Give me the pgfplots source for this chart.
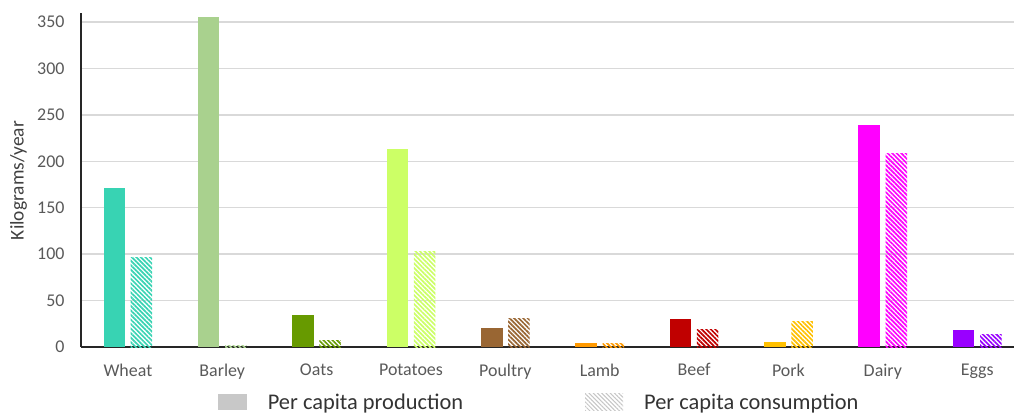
\documentclass[border=0pt]{standalone}
\usepackage{pgfplots}
\pgfplotsset{compat=1.18}
\usepackage{fontspec}
\setmainfont{Carlito}
\usetikzlibrary{patterns.meta}

\definecolor{cWheat}{HTML}{38D3B3}
\definecolor{cBarley}{HTML}{A9D18E}
\definecolor{cOats}{HTML}{679A00}
\definecolor{cPotatoes}{HTML}{CCFF66}
\definecolor{cPoultry}{HTML}{996633}
\definecolor{cLamb}{HTML}{FF9900}
\definecolor{cBeef}{HTML}{C00000}
\definecolor{cPork}{HTML}{FFC000}
\definecolor{cDairy}{HTML}{FF00FF}
\definecolor{cEggs}{HTML}{9900FF}
\definecolor{tickgray}{HTML}{595959}
\definecolor{labelgray}{HTML}{404040}
\definecolor{gridgray}{HTML}{D9D9D9}
\definecolor{legendgray}{HTML}{C8C8C8}

\pgfplotsset{
  prod/.style={ybar, bar width=21.5bp, bar shift=-13.6bp, draw=none, fill=#1, forget plot},
  cons/.style={ybar, bar width=21.5bp, bar shift=13.6bp, draw=none,
    pattern={Lines[angle=-45,distance=3.2bp,line width=1.7bp]}, pattern color=#1, forget plot},
}

\begin{document}
\begin{tikzpicture}
\path[use as bounding box] (-80.7bp,-68bp) rectangle (933.3bp,347bp);
\begin{axis}[
  at={(0bp,0bp)}, anchor=south west,
  scale only axis, width=933.3bp, height=334.3bp,
  xmin=-0.5, xmax=9.39, ymin=0, ymax=360,
  axis x line=bottom, axis y line=left,
  axis line style={-, line width=2bp, color=black!85},
  ytick={0,50,...,350},
  ymajorgrids, grid style={line width=1.5bp, color=gridgray},
  xtick={0,...,9},
  xticklabels={Wheat,Barley,Oats,Potatoes,Poultry,Lamb,Beef,Pork,Dairy,Eggs},
  major tick length=0pt,
  /pgf/number format/assume math mode=true,
  tick label style={font=\fontsize{18}{18}\selectfont, text=tickgray},
  yticklabel style={inner sep=0pt, xshift=-16bp},
  xticklabel style={inner sep=0pt, yshift=-16.5bp},
  ylabel={Kilograms/year},
  every axis y label/.style={at={(axis description cs:-0.0666,0.498)}, rotate=90, anchor=center,
    font=\fontsize{19.5}{19.5}\selectfont, text=labelgray},
  legend columns=2,
  legend style={at={(axis description cs:0.1467,-0.165)}, anchor=west, draw=none, fill=none,
    inner sep=0pt, nodes={inner sep=0pt}, font=\fontsize{22.5}{22.5}\selectfont, text=black!80,
    /tikz/every even column/.append style={column sep=122bp},
    /tikz/every odd column/.append style={column sep=21bp}},
]
% per capita production
\addplot[prod=cWheat]    coordinates {(0,171)};
\addplot[prod=cBarley]   coordinates {(1,355)};
\addplot[prod=cOats]     coordinates {(2,34)};
\addplot[prod=cPotatoes] coordinates {(3,213)};
\addplot[prod=cPoultry]  coordinates {(4,20)};
\addplot[prod=cLamb]     coordinates {(5,4.5)};
\addplot[prod=cBeef]     coordinates {(6,30)};
\addplot[prod=cPork]     coordinates {(7,5.5)};
\addplot[prod=cDairy]    coordinates {(8,239)};
\addplot[prod=cEggs]     coordinates {(9,18)};
% per capita consumption
\addplot[cons=cWheat]    coordinates {(0,96)};
\addplot[cons=cBarley]   coordinates {(1,2)};
\addplot[cons=cOats]     coordinates {(2,7.5)};
\addplot[cons=cPotatoes] coordinates {(3,102.5)};
\addplot[cons=cPoultry]  coordinates {(4,31)};
\addplot[cons=cLamb]     coordinates {(5,4)};
\addplot[cons=cBeef]     coordinates {(6,19)};
\addplot[cons=cPork]     coordinates {(7,27)};
\addplot[cons=cDairy]    coordinates {(8,208)};
\addplot[cons=cEggs]     coordinates {(9,13)};
% legend
\addlegendimage{legend image code/.code={\fill[legendgray, draw=none] (0bp,-8.2bp) rectangle (29bp,8.2bp);}}
\addlegendentry{Per capita production}
\addlegendimage{legend image code/.code={\path[draw=none, pattern={Lines[angle=-45,distance=3bp,line width=1bp]}, pattern color=gray!45] (0bp,-8.2bp) rectangle (38bp,8.2bp);}}
\addlegendentry{Per capita consumption}
\end{axis}
\end{tikzpicture}
\end{document}
